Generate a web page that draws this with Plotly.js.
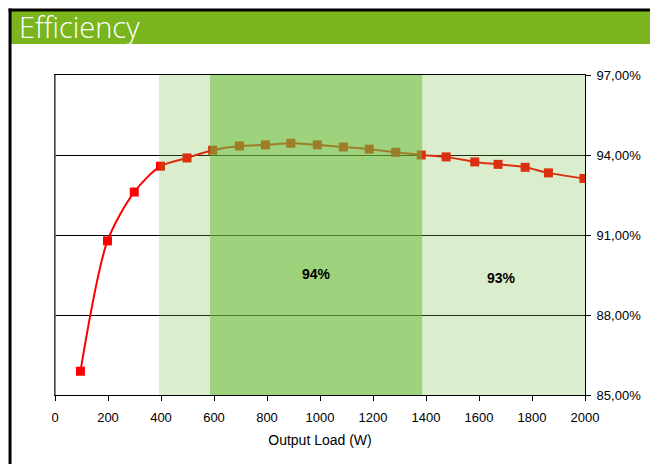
<!DOCTYPE html>
<html>
<head>
<meta charset="utf-8">
<script src="https://cdn.plot.ly/plotly-3.0.1.min.js"></script>
<style>
html,body{margin:0;padding:0;background:#fff;}
#chart{width:650px;height:464px;}
</style>
</head>
<body>
<div id="chart"></div>
<script>
// Output load (W) and efficiency (%)
const loadW = [96, 198, 299, 398, 498, 595, 696, 794, 890, 990, 1088, 1186, 1286, 1382, 1476, 1584, 1672, 1774, 1862, 1996];
const efficiency = [85.89, 90.78, 92.61, 93.58, 93.89, 94.18, 94.34, 94.38, 94.44, 94.38, 94.30, 94.22, 94.10, 94.00, 93.93, 93.74, 93.65, 93.54, 93.33, 93.12];

// Efficiency zones (W)
const zone93 = [392, 2000];
const zone94 = [585, 1386];
const zoneLabels = ["94%", "93%"];
const zoneLabelX = [985, 1685];
const zoneLabelY = [89.53, 89.38];

const yTicks = [85, 88, 91, 94, 97];
const yTickText = ["85,00%", "88,00%", "91,00%", "94,00%", "97,00%"];
const xTicks = [0, 200, 400, 600, 800, 1000, 1200, 1400, 1600, 1800, 2000];

const trace = {
  x: loadW,
  y: efficiency,
  type: 'scatter',
  mode: 'lines+markers',
  line: {color: '#ff0000', width: 2, shape: 'spline', smoothing: 0.8},
  marker: {symbol: 'square', size: 9, color: '#ff0000'},
  hoverinfo: 'skip',
  showlegend: false
};

const px = v => (v - 55) / 530.5;   // pixel -> paper x
const py = v => (395 - v) / 320;    // pixel -> paper y

const layout = {
  width: 650,
  height: 464,
  margin: {l: 55, r: 64.5, t: 75, b: 69},
  paper_bgcolor: '#ffffff',
  plot_bgcolor: '#ffffff',
  font: {family: 'Liberation Sans, Arial, sans-serif', size: 13, color: '#000'},
  title: {
    text: 'Efficiency',
    xref: 'container', yref: 'container',
    x: 19 / 650, xanchor: 'left',
    y: 1 - 28 / 464, yanchor: 'middle',
    font: {family: 'Open Sans, Noto Sans, sans-serif', size: 29, color: '#ffffff', weight: 300}
  },
  xaxis: {
    range: [0, 2000],
    tickvals: xTicks,
    ticks: 'outside', ticklen: 5, tickcolor: '#000',
    ticklabelstandoff: 5,
    showline: true, linecolor: '#000', linewidth: 1, mirror: true,
    showgrid: false, zeroline: false,
    tickfont: {size: 13},
    title: {text: 'Output Load (W)', font: {size: 14}, standoff: 11}
  },
  yaxis: {
    range: [85, 97],
    side: 'right',
    tickvals: yTicks,
    ticktext: yTickText,
    ticks: 'outside', ticklen: 5, tickcolor: '#000',
    ticklabelstandoff: 3,
    showline: true, linecolor: '#000', linewidth: 1, mirror: true,
    showgrid: true, gridcolor: '#000', gridwidth: 1,
    zeroline: false,
    tickfont: {size: 13}
  },
  shapes: [
    {type: 'rect', xref: 'x', yref: 'y', x0: zone93[0], x1: zone94[0], y0: 85, y1: 97,
     fillcolor: 'rgba(112,185,60,0.26)', line: {width: 0}, layer: 'above'},
    {type: 'rect', xref: 'x', yref: 'y', x0: zone94[1], x1: zone93[1], y0: 85, y1: 97,
     fillcolor: 'rgba(112,185,60,0.26)', line: {width: 0}, layer: 'above'},
    {type: 'rect', xref: 'x', yref: 'y', x0: zone94[0], x1: zone94[1], y0: 85, y1: 97,
     fillcolor: 'rgba(109,187,60,0.667)', line: {width: 0}, layer: 'above'},
    // left axis line drawn grey like the reference
    {type: 'line', xref: 'paper', yref: 'paper', x0: 0, x1: 0, y0: 0, y1: 1,
     line: {color: '#606060', width: 1.5}, layer: 'above'},
    // header band
    {type: 'rect', xref: 'paper', yref: 'paper', x0: px(11), x1: px(660), y0: py(44), y1: py(11),
     fillcolor: '#7ab51d', line: {width: 0}, layer: 'above'},
    // frame lines
    {type: 'line', xref: 'paper', yref: 'paper', x0: px(8.5), x1: px(660), y0: py(10), y1: py(10),
     line: {color: '#000', width: 3}, layer: 'above'},
    {type: 'line', xref: 'paper', yref: 'paper', x0: px(10), x1: px(10), y0: py(8.5), y1: py(470),
     line: {color: '#000', width: 3}, layer: 'above'}
  ],
  annotations: zoneLabels.map((t, i) => ({
    x: zoneLabelX[i], y: zoneLabelY[i], xref: 'x', yref: 'y',
    text: '<b>' + t + '</b>', showarrow: false,
    font: {size: 14, color: '#000', family: 'Liberation Sans, Arial, sans-serif'}
  }))
};

Plotly.newPlot('chart', [trace], layout, {staticPlot: true, displayModeBar: false});
</script>
</body>
</html>
